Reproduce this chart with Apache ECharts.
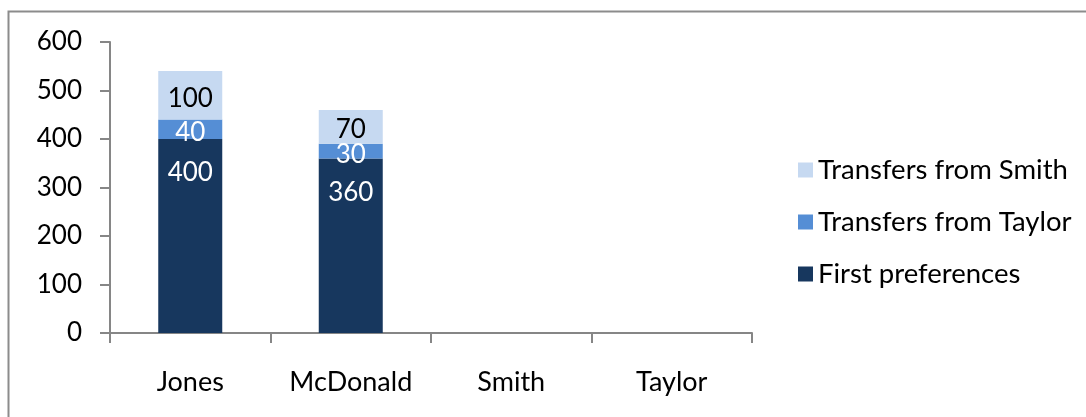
<!DOCTYPE html>
<html>
<head>
<meta charset="utf-8">
<script src="https://cdn.jsdelivr.net/npm/echarts@6/dist/echarts.min.js"></script>
<style>
html,body{margin:0;padding:0;background:#fff;}
#chart{width:1086px;height:417px;}
</style>
</head>
<body>
<div id="chart"></div>
<script>
const categories = ['Jones', 'McDonald', 'Smith', 'Taylor'];
const firstPreferences = [400, 360, null, null];
const transfersFromTaylor = [40, 30, null, null];
const transfersFromSmith = [100, 70, null, null];
const seriesNames = ['First preferences', 'Transfers from Taylor', 'Transfers from Smith'];
const yTicks = { min: 0, max: 600, interval: 100 };

const FONT = 'Lato';
const chart = echarts.init(document.getElementById('chart'));
chart.setOption({
  animation: false,
  textStyle: { fontFamily: FONT },
  graphic: [{
    type: 'rect',
    shape: { x: 8.5, y: 11.5, width: 1200, height: 600 },
    style: { fill: 'none', stroke: '#8c8c8c', lineWidth: 2 },
    silent: true, z: -1
  }],
  grid: { left: 110, right: 334, top: 42, bottom: 84 },
  legend: {
    orient: 'vertical',
    left: 793, top: 151,
    itemWidth: 15, itemHeight: 15, itemGap: 24,
    icon: 'rect',
    data: [seriesNames[2], seriesNames[1], seriesNames[0]],
    textStyle: { fontFamily: FONT, fontSize: 27.5, color: '#000', padding: [0, 0, 0, 0] }
  },
  xAxis: {
    type: 'category',
    data: categories,
    axisLine: { lineStyle: { color: '#868686', width: 2 } },
    axisTick: { show: true, length: 10, lineStyle: { color: '#868686', width: 2 } },
    axisLabel: { fontFamily: FONT, fontSize: 27, color: '#000', margin: 36 }
  },
  yAxis: {
    type: 'value',
    min: yTicks.min, max: yTicks.max, interval: yTicks.interval,
    splitLine: { show: false },
    axisLine: { show: true, lineStyle: { color: '#868686', width: 2 } },
    axisTick: { show: true, length: 10, lineStyle: { color: '#868686', width: 2 } },
    axisLabel: { fontFamily: FONT, fontSize: 26, color: '#000', margin: 28 }
  },
  series: [
    {
      name: seriesNames[0], type: 'bar', stack: 'total', barWidth: 64,
      data: firstPreferences,
      itemStyle: { color: '#17375E' },
      label: { show: true, position: 'insideTop', distance: 21, color: '#fff', fontFamily: FONT, fontSize: 26 }
    },
    {
      name: seriesNames[1], type: 'bar', stack: 'total', barWidth: 64,
      data: transfersFromTaylor,
      itemStyle: { color: '#558ED5' },
      label: { show: true, position: 'inside', offset: [0, 3], color: '#fff', fontFamily: FONT, fontSize: 26 }
    },
    {
      name: seriesNames[2], type: 'bar', stack: 'total', barWidth: 64,
      data: transfersFromSmith,
      itemStyle: { color: '#C6D9F1' },
      label: { show: true, position: 'inside', offset: [0, 3], color: '#000', fontFamily: FONT, fontSize: 26 }
    }
  ]
});
</script>
</body>
</html>
